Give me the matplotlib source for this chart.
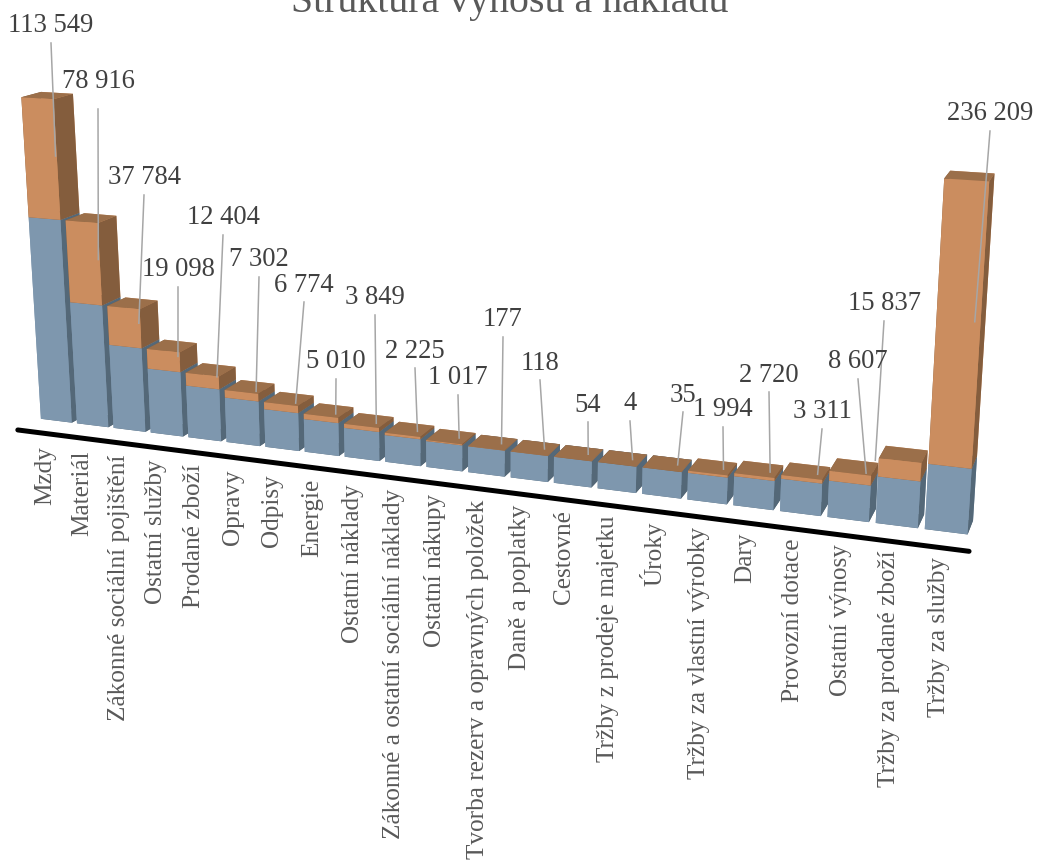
import numpy as np
import matplotlib
matplotlib.use("Agg")
import matplotlib.pyplot as plt
from mpl_toolkits.mplot3d import proj3d

categories = ["Mzdy", "Materiál", "Zákonné sociální pojištění", "Ostatní služby", "Prodané zboží",
              "Opravy", "Odpisy", "Energie", "Ostatní náklady", "Zákonné a ostatní sociální náklady",
              "Ostatní nákupy", "Tvorba rezerv a opravných položek", "Daně a poplatky", "Cestovné",
              "Tržby z prodeje majetku", "Úroky", "Tržby za vlastní výrobky", "Dary", "Provozní dotace",
              "Ostatní výnosy", "Tržby za prodané zboží", "Tržby za služby"]
values = [113549, 78916, 37784, 19098, 12404, 7302, 6774, 5010, 3849, 2225, 1017,
          177, 118, 54, 4, 35, 1994, 2720, 3311, 8607, 15837, 236209]
# the lower (blue) part of each column
base = [198728, 119812, 82028, 62930, 50526, 43224, 36450, 31440, 27591, 25366, 24349,
        24172, 24054, 24000, 24000, 24004, 24039, 26033, 28753, 32064, 40671, 56508]

# where the value labels sit, in pixels
label_pos = [(51, 26), (98, 82), (144, 178), (178, 270), (223, 218), (259, 260), (304, 285),
             (336, 362), (375, 298), (415, 351), (458, 378), (503, 320), (540, 363), (588, 405),
             (630, 404), (683, 395), (723, 410), (769, 375), (822, 412), (858, 362), (884, 304), (990, 114)]

W, H = 1037, 867
gap = 0.07
serif = "Liberation Serif"

fig = plt.figure(figsize=(W / 100, H / 100), dpi=100)
ax = fig.add_axes([0, 0, 1, 1], projection="3d")
ax.set_axis_off()
ax.patch.set_alpha(0)
ax.computed_zorder = False

blue = ["#546878", "#7E97AE", "#7E97AE", "#7E97AE", "#7E97AE", "#546878"]
orange = ["#845D3D", "#9B6F4A", "#CB8D5F", "#CB8D5F", "#845D3D", "#845D3D"]
for i in range(len(values)):
    low = ax.bar3d(i + gap, 0, 0, 1 - 2 * gap, 1, base[i], color=blue, shade=False, zorder=2 * i + 1)
    top = ax.bar3d(i + gap, 0, base[i], 1 - 2 * gap, 1, values[i], color=orange, shade=False, zorder=2 * i + 2)
    low.set_clip_on(False)
    top.set_clip_on(False)

ax.set_xlim(0, 22)
ax.set_ylim(0, 1)
ax.set_zlim(0, 320000)

# camera fitted against the picture
ax.view_init(elev=14.613, azim=-69.057, roll=0.258)
ax.set_proj_type("persp", focal_length=0.3606)
ax.set_box_aspect((22.096, 0.8372, 8.020))
side = 1039.9
cx, cy = 457.14, 307.12
ax.set_position([(cx - side / 2) / W, 1 - (cy + side / 2) / H, side / W, side / H])
ax.apply_aspect()


def to_pixels(x, y, z):
    xs, ys, _ = proj3d.proj_transform(np.asarray(x, float), np.asarray(y, float), np.asarray(z, float), ax.get_proj())
    d = ax.transData.transform(np.c_[xs, ys])
    return d[:, 0], H - d[:, 1]


over = fig.add_axes([0, 0, 1, 1], zorder=10)
over.set_xlim(0, W)
over.set_ylim(H, 0)
over.axis("off")
over.patch.set_alpha(0)

# axis line in front of the columns
lx, ly = to_pixels([0.02, 22.08], [-1.1, -1.1], [0, 0])
over.plot(lx, ly, color="black", lw=3.6, solid_capstyle="round")

idx = np.arange(len(values))
fx, fy = to_pixels(idx + 0.5, np.zeros(len(idx)), np.zeros(len(idx)))
for i, name in enumerate(categories):
    over.text(fx[i] - 11 + 4 * i / 21, fy[i] + 25, name, rotation=90, ha="center", va="top",
              fontsize=18.2, family=serif, color="#595959")

# leader lines end near the right of the orange block
shift = 0.13 + 0.14 * idx / 21
shift[20] -= 0.83  # this one stops at the left edge of its column
tx, ty = to_pixels(idx + 0.5 + shift, np.full(len(idx), 0.5), np.array(base) + np.array(values) / 2)
for i, (px, py) in enumerate(label_pos):
    text = f"{values[i]:,}".replace(",", " ")
    over.plot([px, tx[i]], [py + (27 if i == 1 else 17), ty[i]], color="#A6A6A6", lw=1.1)
    over.text(px, py, text, ha="center", va="center", fontsize=19.2, family=serif, color="#404040")

over.text(510, 12, "Struktura výnosů a nákladů", ha="center", va="baseline", fontsize=28.7,
          family=serif, color="#595959")

fig.savefig("out.png", dpi=100)
